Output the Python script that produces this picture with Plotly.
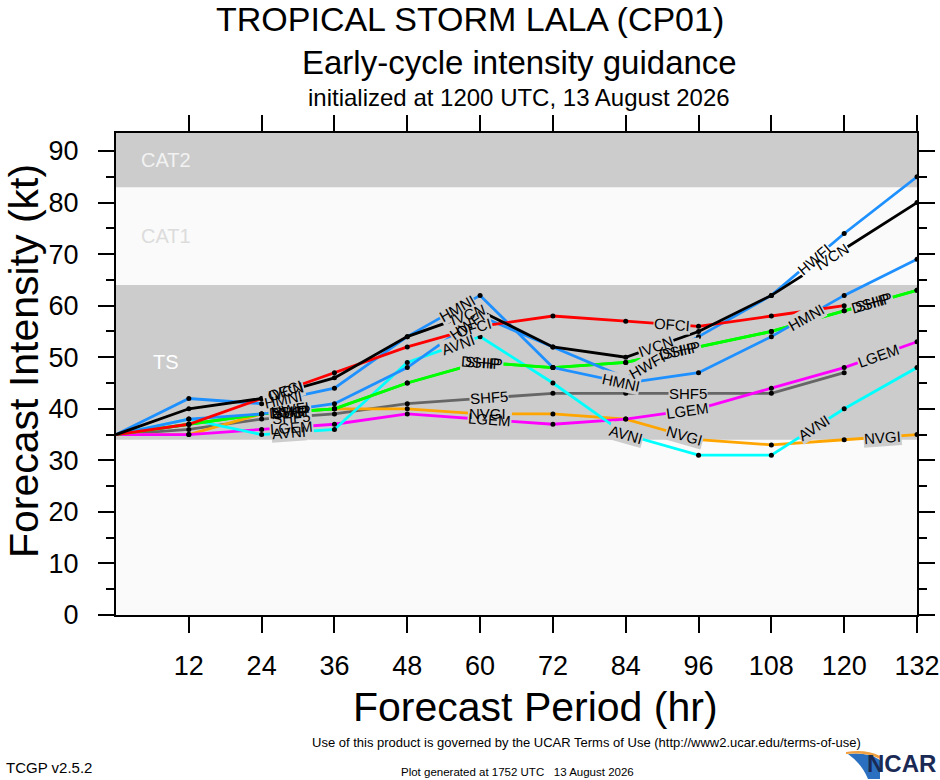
import math
import plotly.graph_objects as go

# ---------------- data ----------------
HOURS = [0, 12, 24, 36, 48, 60, 72, 84, 96, 108, 120, 132]
OFCI = [35, 37, 42, 47, 52, 56, 58, 57, 56, 58, 60, None]
IVCN = [35, 40, 42, 46, 54, 59, 52, 50, 55, 62, 71, 80]
HWFI = [35, 38, 39, 41, 48, 58, 52, 46, 54, 62, 74, 85]
HMNI = [35, 42, 41, 44, 54, 62, 48, 45, 47, 54, 62, 69]
DSHP = [35, 37, 39, 40, 45, 49, 48, 49, 52, 55, 59, 63]
SHIP = [35, 37, 39, 40, 45, 49, 48, 49, 52, 55, 59, 63]
SHF5 = [35, 36, 38, 39, 41, 42, 43, 43, 43, 43, 47, None]
NVGI = [35, 35, 39, 40, 40, 39, 39, 38, 34, 33, 34, 35]
LGEM = [35, 35, 36, 37, 39, 38, 37, 38, 40, 44, 48, 53]
AVNI = [35, 38, 35, 36, 49, 54, 45, 35, 31, 31, 40, 48]

X_TICKS = [12, 24, 36, 48, 60, 72, 84, 96, 108, 120, 132]
BAND_LIMITS = [34, 64, 83]          # TS, CAT1, CAT2 thresholds (kt)
BAND_NAMES = ["TS", "CAT1", "CAT2"]

SERIES = [
    ("SHF5", SHF5), ("NVGI", NVGI), ("LGEM", LGEM), ("AVNI", AVNI),
    ("SHIP", SHIP), ("DSHP", DSHP), ("HMNI", HMNI), ("HWFI", HWFI),
    ("OFCI", OFCI), ("IVCN", IVCN),
]

# ---------------- style ----------------
COLORS = {
    "OFCI": "#ff0000", "IVCN": "#000000", "HWFI": "#1e90ff", "HMNI": "#1e90ff",
    "DSHP": "#00ff00", "SHIP": "#00ff00", "SHF5": "#666666", "NVGI": "#ffa500",
    "LGEM": "#ff00ff", "AVNI": "#00ffff",
}
FONT = "Liberation Sans, Arial, Helvetica, sans-serif"
W, H = 940, 780
ML, MR, MT, MB = 116, 23, 133, 165
PLOT_W = W - ML - MR
PLOT_H = H - MT - MB
XMAX = HOURS[-1]
ALLV = [v for _, s in SERIES for v in s if v is not None]
YMAX = 1.1 * max(ALLV)
PX_HR = PLOT_W / XMAX
PX_KT = PLOT_H / YMAX
GRAY = "#cccccc"
LIGHT = "#fafafa"

LABEL_FIRST = 176   # px along line to first label
LABEL_STEP = 199    # px between labels


def px2p(px):
    return (px - ML) / PLOT_W


def py2p(py):
    return (H - MB - py) / PLOT_H


def band_color(v):
    if BAND_LIMITS[0] <= v < BAND_LIMITS[1] or v >= BAND_LIMITS[2]:
        return GRAY
    return LIGHT


def label_spots(xs, ys):
    pts = [(x, y) for x, y in zip(xs, ys) if y is not None]
    segs = []
    cum = 0.0
    for (x0, y0), (x1, y1) in zip(pts[:-1], pts[1:]):
        dx = (x1 - x0) * PX_HR
        dy = (y1 - y0) * PX_KT
        L = math.hypot(dx, dy)
        segs.append((cum, L, x0, y0, x1, y1, dx, dy))
        cum += L
    out = []
    s = LABEL_FIRST
    while s < cum:
        for c, L, x0, y0, x1, y1, dx, dy in segs:
            if c <= s < c + L:
                f = (s - c) / L
                ang = -math.degrees(math.atan2(dy, dx))
                out.append((x0 + f * (x1 - x0), y0 + f * (y1 - y0), ang))
                break
        s += LABEL_STEP
    return out


fig = go.Figure()

for name, vals in SERIES:
    fig.add_trace(go.Scatter(
        x=HOURS, y=vals, mode="lines", name=name,
        line=dict(color=COLORS[name], width=2.8),
        connectgaps=False, showlegend=False, hoverinfo="skip",
    ))
for name, vals in SERIES:
    fig.add_trace(go.Scatter(
        x=HOURS[1:], y=vals[1:], mode="markers", name=name,
        marker=dict(color="black", size=5), showlegend=False,
    ))

annotations = []
spots = [(name, lx, ly, ang) for name, vals in SERIES
         for lx, ly, ang in label_spots(HOURS, vals)]
# first pass: gaps in the lines (background boxes only)
for name, lx, ly, ang in spots:
    annotations.append(dict(
        x=lx, y=ly, xref="x", yref="y", text=name, showarrow=False,
        textangle=ang, font=dict(family=FONT, size=15, color="rgba(0,0,0,0)"),
        bgcolor=band_color(ly), borderpad=0,
        xanchor="center", yanchor="middle",
    ))
# second pass: the label texts on top
for name, lx, ly, ang in spots:
    annotations.append(dict(
        x=lx, y=ly, xref="x", yref="y", text=name, showarrow=False,
        textangle=ang, font=dict(family=FONT, size=15, color="black"),
        borderpad=0, xanchor="center", yanchor="middle",
    ))

# intensity bands
shapes = []
tops = BAND_LIMITS[1:] + [YMAX]
for i, (lo, hi) in enumerate(zip(BAND_LIMITS, tops)):
    if i != 1:
        shapes.append(dict(type="rect", xref="x domain", yref="y", x0=0, x1=1,
                           y0=lo, y1=hi, fillcolor=GRAY, line=dict(width=0),
                           layer="below"))
band_text_col = {"TS": "#ffffff", "CAT1": "#dcdcdc", "CAT2": "#f2f2f2"}
for name, lo, hi in zip(BAND_NAMES, BAND_LIMITS, tops):
    annotations.append(dict(
        x=0.062, y=(lo + hi) / 2, xref="x domain", yref="y", text=name,
        showarrow=False, font=dict(family=FONT, size=20, color=band_text_col[name]),
        xanchor="center", yanchor="middle",
    ))


# titles and footer
def paper_text(text, px, py, size, xanchor="center", color="black", angle=0,
               family=FONT, yanchor="middle"):
    annotations.append(dict(
        x=px2p(px), y=py2p(py), xref="paper", yref="paper", text=text,
        showarrow=False, font=dict(family=family, size=size, color=color),
        xanchor=xanchor, yanchor=yanchor, textangle=angle,
    ))


paper_text("TROPICAL STORM LALA (CP01)", 470, 19, 34)
paper_text("Early-cycle intensity guidance", 519, 62, 33)
paper_text("initialized at 1200 UTC, 13 August 2026", 519, 97, 24)
paper_text("Forecast Period (hr)", 535, 707, 41)
paper_text("Forecast Intensity (kt)", 24, 361, 41, angle=-90)
paper_text("Use of this product is governed by the UCAR Terms of Use (http://www2.ucar.edu/terms-of-use)",
           586, 742, 13)
paper_text("TCGP v2.5.2", 4, 767, 15, xanchor="left")
paper_text("Plot generated at 1752 UTC&nbsp;&nbsp;&nbsp;13 August 2026", 517, 772, 11.5)
paper_text("<b>NCAR</b>", 938, 779, 24, xanchor="right", color="#1b2a55",
           yanchor="bottom")
shapes.append(dict(
    type="path", xref="paper", yref="paper",
    path=(f"M {px2p(848)},{py2p(754)} Q {px2p(868)},{py2p(752)} {px2p(880)},{py2p(760)} "
          f"L {px2p(880)},{py2p(779)} L {px2p(868)},{py2p(779)} "
          f"Q {px2p(862)},{py2p(764)} {px2p(848)},{py2p(754)} Z"),
    fillcolor="#2a6fc0", line=dict(width=0),
))
shapes.append(dict(
    type="path", xref="paper", yref="paper",
    path=(f"M {px2p(846)},{py2p(752)} Q {px2p(866)},{py2p(749)} {px2p(880)},{py2p(756)} "
          f"L {px2p(880)},{py2p(759)} Q {px2p(866)},{py2p(752)} {px2p(846)},{py2p(754)} Z"),
    fillcolor="#f0a040", line=dict(width=0),
))

axis_common = dict(
    showline=True, linecolor="black", linewidth=2, mirror="ticks",
    ticks="outside", ticklen=16, tickwidth=2, tickcolor="black",
    showgrid=False, zeroline=False, automargin=False,
    tickfont=dict(family=FONT, size=27, color="black"),
)

fig.update_layout(
    width=W, height=H, margin=dict(l=ML, r=MR, t=MT, b=MB, autoexpand=False),
    paper_bgcolor="white", plot_bgcolor=LIGHT,
    xaxis=dict(range=[0, XMAX], tickvals=X_TICKS, ticklabelstandoff=10,
               **axis_common),
    yaxis=dict(range=[0, YMAX], tick0=0, dtick=10, ticklabelstandoff=14,
               minor=dict(dtick=5, ticks="outside", ticklen=8, tickwidth=2,
                          tickcolor="black", showgrid=False),
               **axis_common),
    shapes=shapes, annotations=annotations, showlegend=False,
)

fig.write_html(
    "out.html",
    config={"displayModeBar": False},
    post_script="document.body.style.margin='0';document.body.style.overflow='hidden';",
)
